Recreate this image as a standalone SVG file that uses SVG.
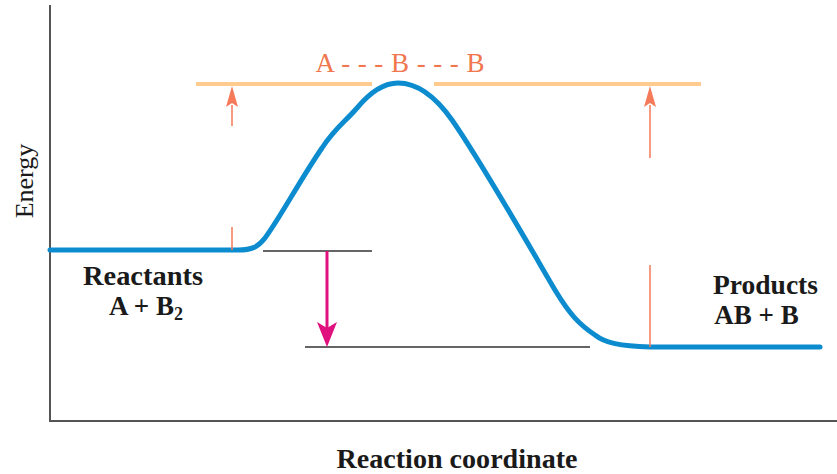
<svg xmlns="http://www.w3.org/2000/svg" width="837" height="474" viewBox="0 0 837 474">
<defs>
<style>
.axis{stroke:#555;stroke-width:2;fill:none}
.lbl{font-family:"Liberation Serif","Times New Roman",serif;fill:#1a1a1a}
.b{font-weight:bold}
.ts{font-family:"Liberation Serif","Times New Roman",serif;fill:#F0764E;font-size:27px}
.lvl{stroke:#FFCB8E;stroke-width:4;fill:none}
.ea{stroke:#F47A5A;stroke-width:1.5;fill:none}
.ref{stroke:#333;stroke-width:1.5;fill:none}
.ah{fill:#F47A5A}
</style>
</defs>
<rect width="837" height="474" fill="#fff"/>
<g id="axes">
<path class="axis" d="M50,5 V421 H837"/>
<text class="lbl" font-size="26" transform="translate(33,181) rotate(-90)" text-anchor="middle">Energy</text>
<text class="lbl b" font-size="27" x="457" y="468" text-anchor="middle" textLength="241" lengthAdjust="spacingAndGlyphs">Reaction coordinate</text>
</g>
<g id="transition-state">
<path class="lvl" d="M196,84 H372 M434,84 H701"/>
<text class="ts" x="400" y="72" text-anchor="middle" textLength="169" lengthAdjust="spacing">A - - - B - - - B</text>
</g>
<g id="curve">
<path d="M50,250 L238,250 C252,250 258,247 265,238 C280,218 300,180 322,148 C335,128 345,122 357,108 C372,90 385,83 398,83 C418,83 435,96 452,120 C480,160 520,230 555,290 C570,315 580,325 595,335 C605,343 620,346 650,347 L820,347" fill="none" stroke="#0C8CCF" stroke-width="5" stroke-linecap="round"/>
</g>
<g id="reactants">
<text class="lbl b" font-size="27" x="143" y="285" text-anchor="middle" textLength="120" lengthAdjust="spacingAndGlyphs">Reactants</text>
<text class="lbl b" font-size="27" x="146" y="315" text-anchor="middle">A + B<tspan font-size="18" dy="5">2</tspan></text>
</g>
<g id="products">
<text class="lbl b" font-size="27" x="765.5" y="294" text-anchor="middle" textLength="105" lengthAdjust="spacingAndGlyphs">Products</text>
<text class="lbl b" font-size="27" x="756.5" y="324" text-anchor="middle">AB + B</text>
</g>
<g id="connectors">
<path class="ea" d="M232,126 V105 M232,227 V250 M650,158 V105 M650,265 V347"/>
<path class="ah" d="M232,86 L226,107 L232,103 L238,107 Z"/>
<path class="ah" d="M650,86 L644,107 L650,103 L656,107 Z"/>
<path class="ref" d="M263,251 H372 M305,347 H590"/>
<path d="M327,251 V330" stroke="#E0107F" stroke-width="3" fill="none"/>
<path d="M327,347 L317,322 L327,328 L337,322 Z" fill="#E0107F"/>
</g>
</svg>
